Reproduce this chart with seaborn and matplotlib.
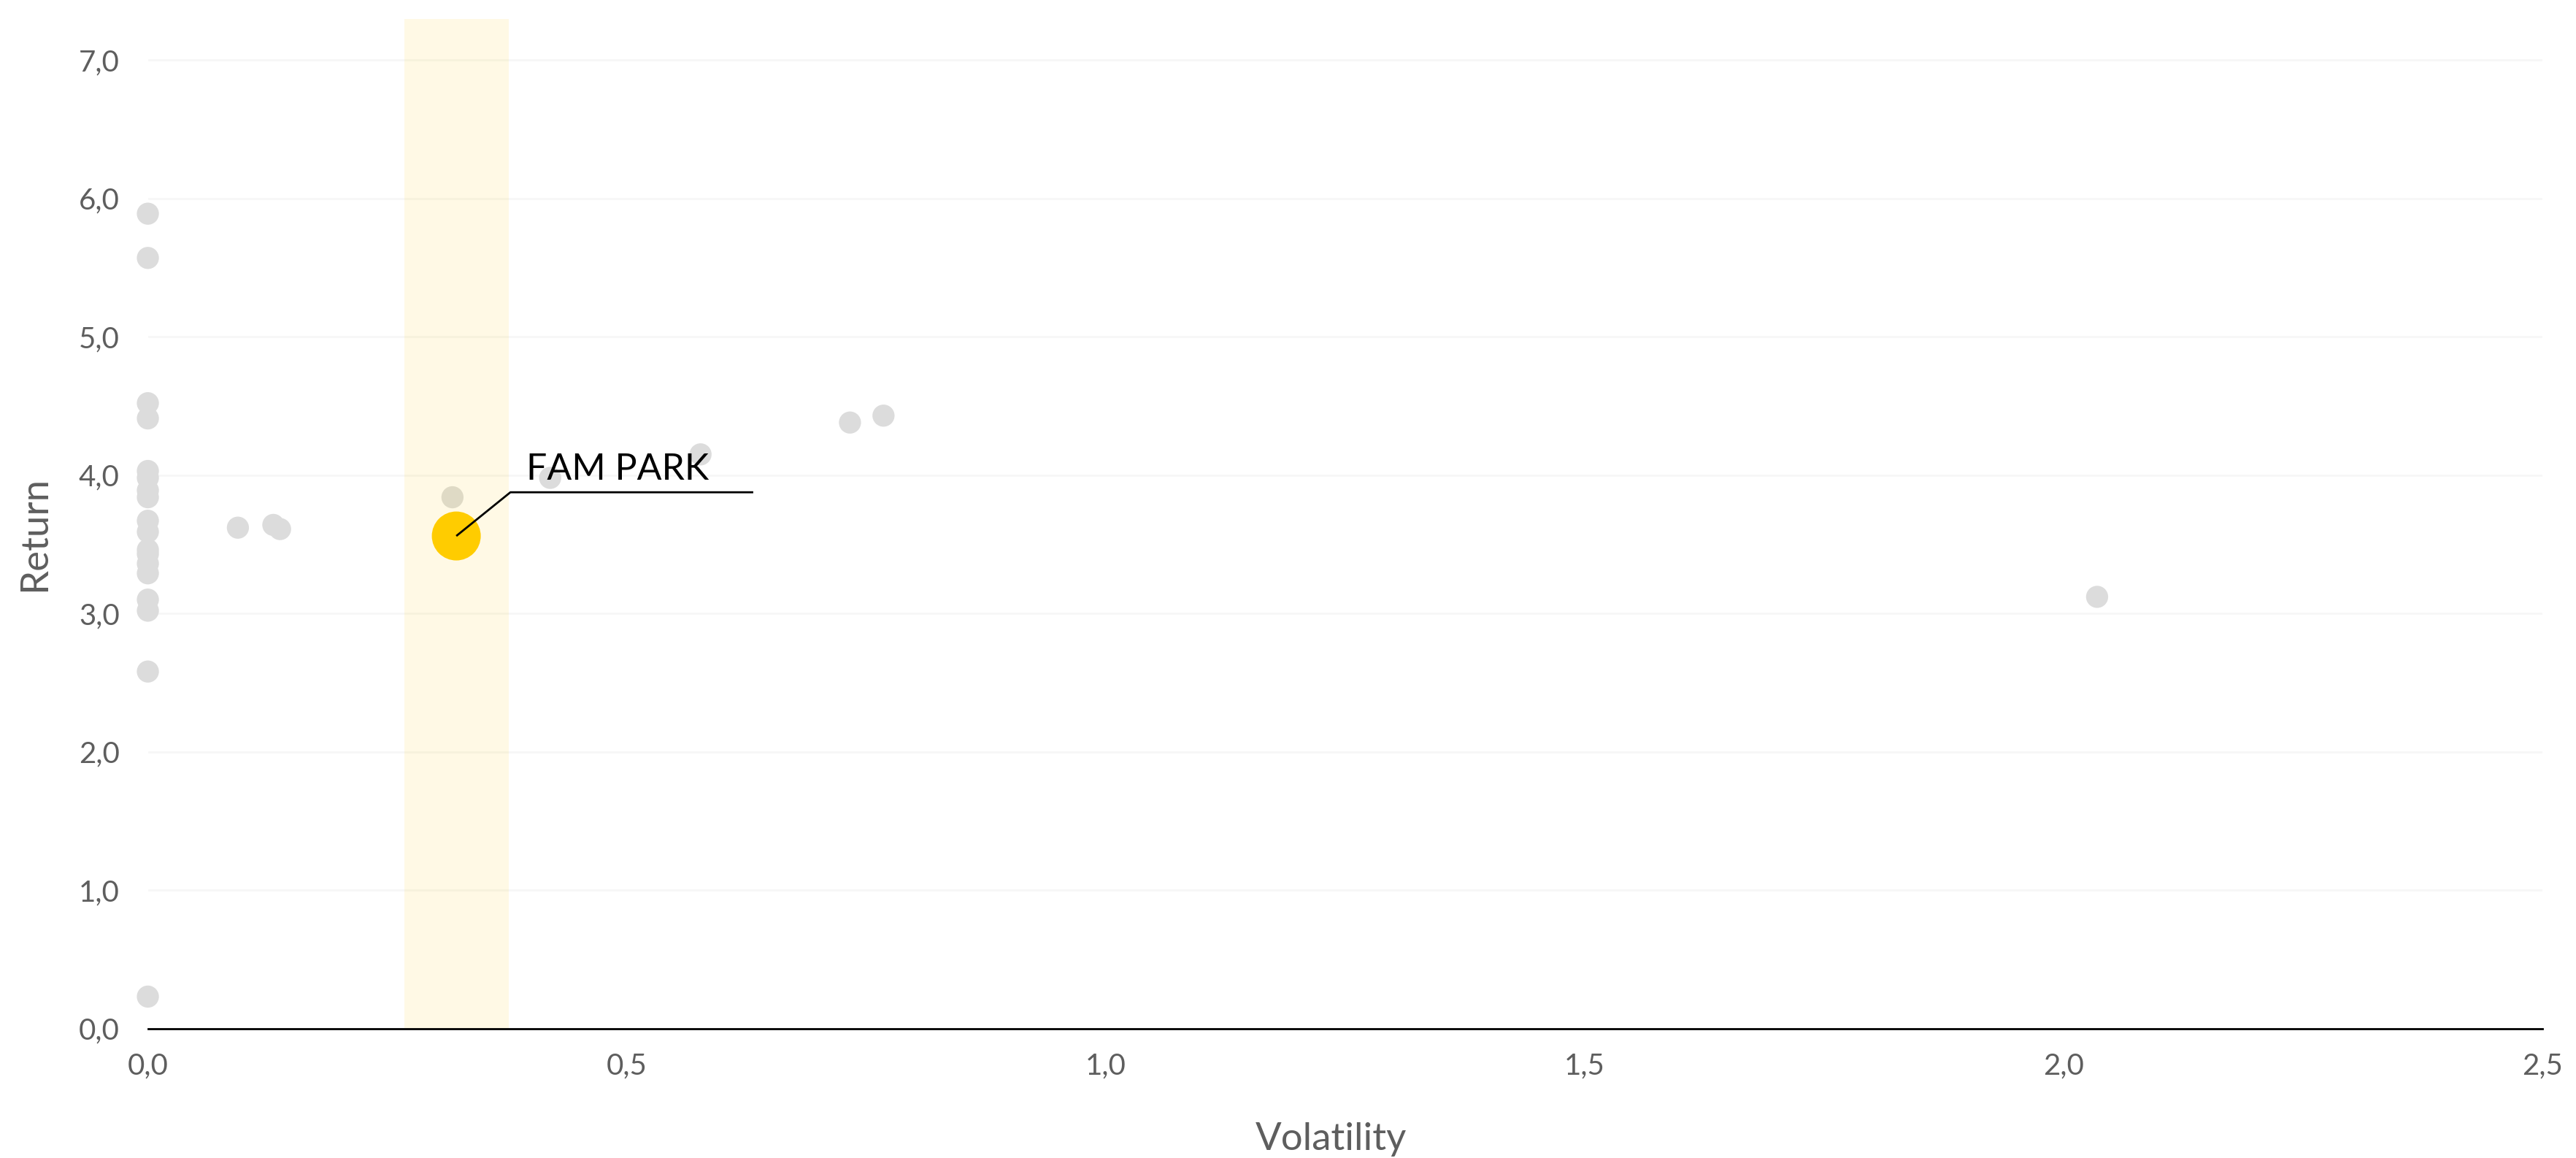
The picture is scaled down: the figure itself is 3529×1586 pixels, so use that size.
import numpy as np
import pandas as pd
import seaborn as sns
import matplotlib.pyplot as plt
from matplotlib.ticker import FuncFormatter, MultipleLocator

# Peer funds: volatility vs return
peer_vol = [0.0, 0.0, 0.0, 0.0, 0.0, 0.0, 0.0, 0.0, 0.0, 0.0, 0.0, 0.0, 0.0, 0.0, 0.0, 0.0, 0.0, 0.0,
            0.094, 0.131, 0.138, 0.318, 0.420, 0.577, 0.733, 0.768, 2.035]
peer_ret = [5.89, 5.57, 4.52, 4.41, 4.03, 3.98, 3.89, 3.84, 3.67, 3.59, 3.46, 3.43, 3.36, 3.29, 3.10, 3.02, 2.58, 0.23,
            3.62, 3.64, 3.61, 3.84, 3.98, 4.15, 4.38, 4.43, 3.12]

# Highlighted fund
fund_name = "FAM PARK"
fund_vol = [0.322]
fund_ret = [3.56]

# volatility band around the fund
band_lo, band_hi = 0.2675, 0.377

x_ticks = [0.0, 0.5, 1.0, 1.5, 2.0, 2.5]
y_ticks = [0, 1, 2, 3, 4, 5, 6, 7]

peers = pd.DataFrame({"Volatility": peer_vol, "Return": peer_ret})
fund = pd.DataFrame({"Volatility": fund_vol, "Return": fund_ret})

sns.set_style("white")
plt.rcParams['font.family'] = ['Lato', 'DejaVu Sans']

fig = plt.figure(figsize=(17.645, 7.93), dpi=200)
ax = fig.add_axes([0.0574, 0.1119, 0.9296, 0.872])

sns.scatterplot(data=peers, x="Volatility", y="Return", ax=ax, color="#DCDCDC",
                s=119, edgecolor="none", linewidth=0, clip_on=False, zorder=2)
ax.axvspan(band_lo, band_hi, color="#FFCC00", alpha=0.1, lw=0, zorder=3)
sns.scatterplot(data=fund, x="Volatility", y="Return", ax=ax, color="#FFCC00",
                s=582, edgecolor="none", linewidth=0, clip_on=False, zorder=4)

# label with elbow leader line
ax.plot([fund_vol[0], 0.3785, 0.632], [fund_ret[0], 3.876, 3.876], color="black", lw=1.0,
        zorder=5, solid_capstyle="butt")
ax.text(0.395, 3.966, fund_name, fontsize=18, color="black", ha="left", va="baseline", zorder=5)

ax.set_xlim(0, 2.5)
ax.set_ylim(0, 7.3)
ax.set_xticks(x_ticks)
ax.set_yticks(y_ticks)
ax.xaxis.set_major_formatter(FuncFormatter(lambda v, p: f"{v:.1f}".replace(".", ",")))
ax.yaxis.set_major_formatter(FuncFormatter(lambda v, p: f"{v:.1f}".replace(".", ",")))
ax.tick_params(axis="both", length=0, labelsize=14.5, labelcolor="#5e5e5e")
ax.tick_params(axis="y", pad=14)
ax.tick_params(axis="x", pad=12)

ax.grid(axis="y", color="#f7f7f7", lw=1.0, zorder=0)
ax.grid(axis="x", visible=False)
ax.set_axisbelow(True)

for s in ["top", "right", "left"]:
    ax.spines[s].set_visible(False)
ax.spines["bottom"].set_color("black")
ax.spines["bottom"].set_linewidth(1.0)
ax.spines["bottom"].set_zorder(6)

ax.set_xlabel("Volatility", fontsize=19, color="#5e5e5e")
ax.set_ylabel("Return", fontsize=19, color="#5e5e5e")
ax.xaxis.set_label_coords(0.494, -0.093)
ax.yaxis.set_label_coords(-0.040, 0.49)

fig.savefig("out.png", dpi=200, facecolor="white")
